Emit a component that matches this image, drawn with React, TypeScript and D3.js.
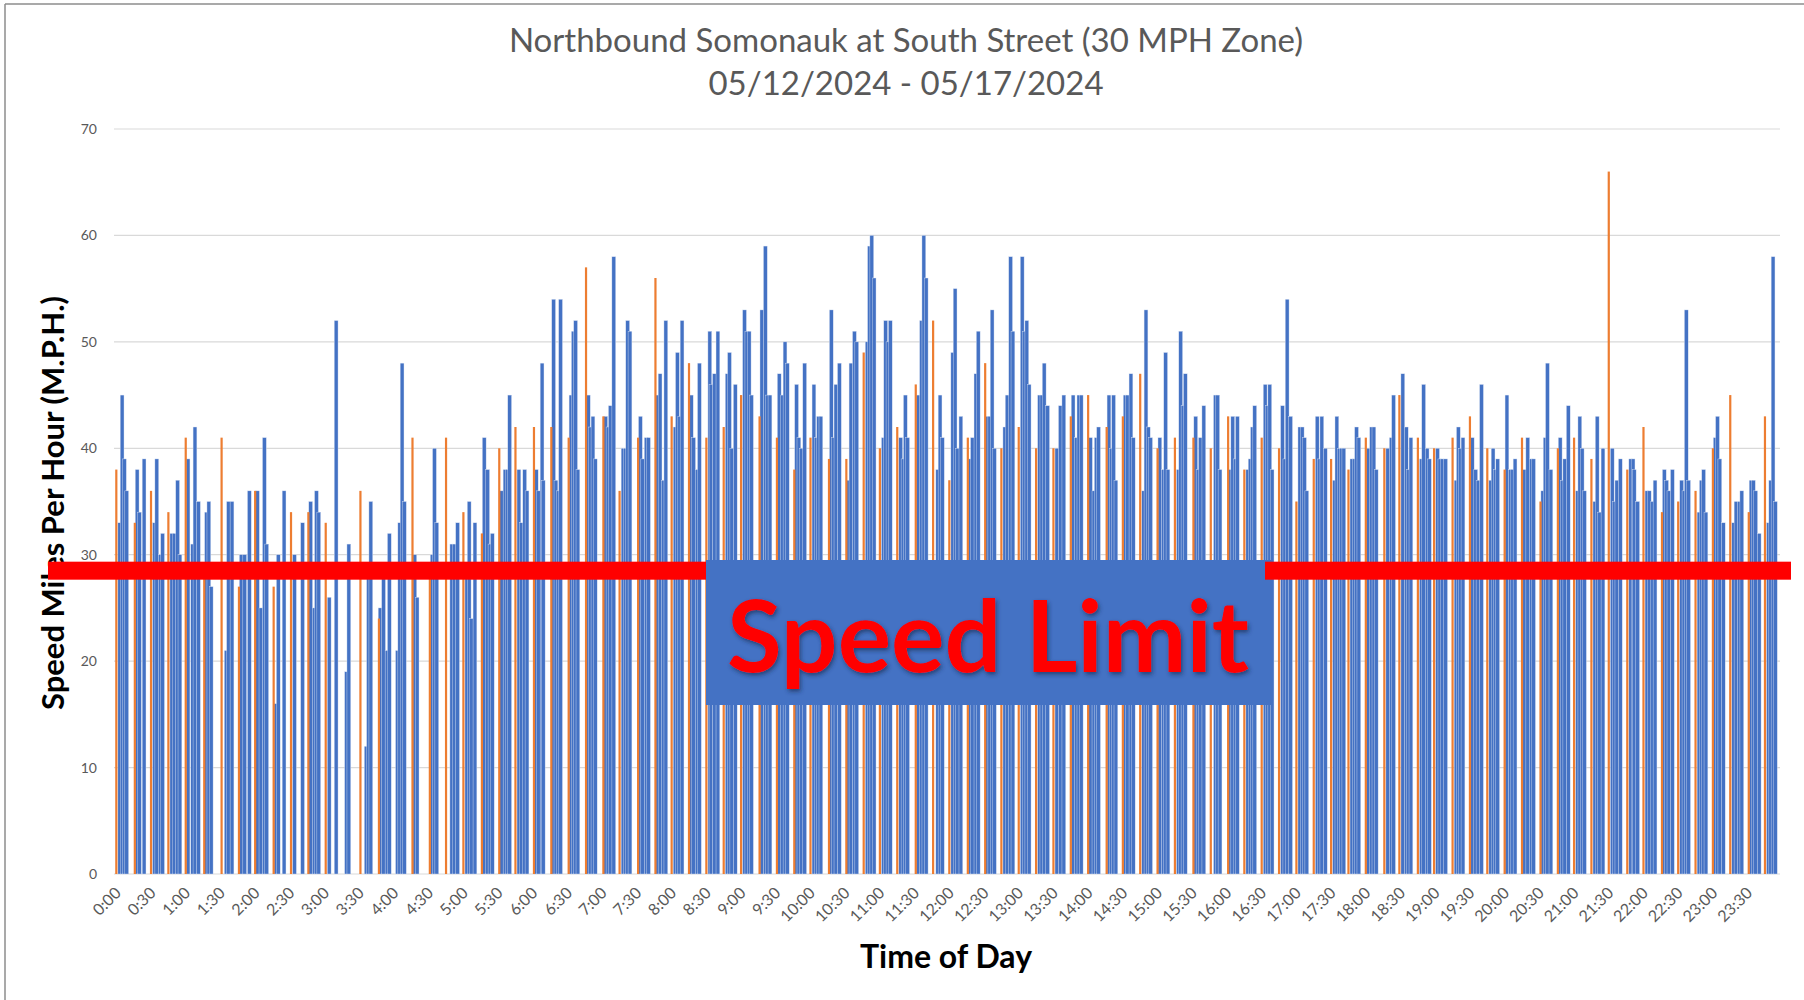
import * as d3 from 'd3';

// speed readings: [minute of day, mph]
const blueBars: [number, number][] = [
  [5, 33], [7, 45], [9, 39], [11, 36], [20, 38], [22, 34], [26, 39], [35, 33], [37, 39], [40, 30], [42, 32],
  [50, 32], [52, 32], [55, 37], [57, 30], [64, 39], [68, 31], [70, 42], [73, 35], [80, 34], [82, 35], [84, 27],
  [97, 21], [99, 35], [102, 35], [110, 30], [113, 30], [117, 36], [124, 36], [127, 25], [130, 41], [132, 31],
  [140, 16], [142, 30], [147, 36], [156, 30], [163, 33], [170, 35], [173, 25], [175, 36], [177, 34], [186, 26],
  [192, 52], [201, 19], [203, 31], [218, 12], [220, 29], [222, 35], [230, 25], [233, 29], [236, 21], [238, 32],
  [245, 21], [247, 33], [249, 48], [251, 35], [260, 30], [262, 26], [275, 30], [277, 40], [279, 33], [292, 31],
  [294, 31], [297, 33], [305, 28], [307, 35], [309, 24], [312, 33], [320, 41], [323, 38], [325, 31], [327, 32],
  [335, 36], [338, 38], [340, 38], [342, 45], [350, 38], [352, 33], [355, 38], [357, 36], [365, 38], [367, 36],
  [370, 48], [371, 37], [380, 54], [382, 37], [384, 36], [386, 54], [395, 45], [397, 51], [399, 52], [401, 38],
  [410, 45], [412, 42], [414, 43], [416, 39], [425, 43], [427, 42], [429, 44], [432, 58], [440, 40], [442, 40],
  [444, 52], [446, 51], [455, 43], [457, 39], [460, 41], [462, 41], [470, 45], [472, 47], [475, 37], [477, 52],
  [485, 42], [487, 49], [489, 43], [491, 52], [499, 45], [501, 41], [504, 38], [506, 48], [515, 51], [516, 46],
  [519, 47], [522, 51], [530, 47], [532, 49], [534, 40], [537, 46], [545, 53], [547, 51], [549, 51], [551, 45],
  [560, 53], [563, 59], [565, 45], [567, 45], [575, 47], [578, 45], [580, 50], [582, 48], [590, 46], [592, 41],
  [594, 40], [597, 48], [605, 46], [607, 41], [609, 43], [611, 43], [620, 53], [622, 41], [624, 46], [627, 48],
  [635, 37], [637, 48], [640, 51], [642, 50], [651, 50], [653, 59], [655, 60], [657, 56], [665, 41], [667, 52],
  [669, 50], [671, 52], [680, 41], [682, 39], [684, 45], [686, 41], [695, 45], [698, 52], [700, 60], [702, 56],
  [712, 38], [714, 45], [716, 41], [725, 49], [727, 55], [729, 40], [732, 43], [740, 39], [742, 41], [745, 47],
  [747, 51], [755, 43], [757, 43], [759, 53], [761, 40], [770, 42], [772, 45], [775, 58], [777, 51], [785, 58],
  [787, 51], [789, 52], [791, 46], [800, 45], [802, 45], [804, 48], [807, 44], [815, 40], [818, 44], [821, 45],
  [829, 45], [832, 41], [834, 45], [836, 45], [844, 41], [847, 36], [849, 41], [851, 42], [860, 45], [862, 40],
  [864, 45], [866, 37], [874, 45], [876, 45], [879, 47], [881, 41], [890, 36], [892, 53], [894, 42], [896, 41],
  [904, 41], [907, 38], [909, 49], [911, 38], [920, 38], [922, 51], [924, 44], [926, 47], [935, 43], [937, 38],
  [939, 41], [942, 44], [952, 45], [954, 45], [956, 38], [965, 38], [967, 43], [969, 39], [971, 43], [980, 38],
  [982, 39], [984, 42], [986, 44], [995, 46], [997, 44], [999, 46], [1001, 38], [1010, 44], [1012, 39], [1014, 54],
  [1017, 43], [1025, 42], [1027, 42], [1029, 41], [1031, 36], [1040, 43], [1042, 39], [1044, 43], [1047, 40],
  [1055, 37], [1057, 43], [1059, 40], [1061, 40], [1063, 40], [1070, 39], [1072, 39], [1074, 42], [1076, 41],
  [1084, 40], [1087, 42], [1089, 42], [1091, 38], [1101, 40], [1104, 41], [1106, 45], [1114, 47], [1117, 42],
  [1119, 38], [1121, 41], [1130, 39], [1132, 46], [1135, 40], [1137, 39], [1144, 40], [1146, 39], [1148, 39],
  [1151, 39], [1160, 37], [1162, 42], [1164, 40], [1166, 41], [1174, 41], [1177, 38], [1179, 37], [1182, 46],
  [1190, 37], [1192, 40], [1194, 38], [1196, 39], [1204, 45], [1207, 38], [1209, 38], [1211, 39], [1219, 38],
  [1222, 41], [1225, 39], [1227, 39], [1235, 36], [1237, 41], [1239, 48], [1242, 38], [1250, 41], [1252, 37],
  [1254, 39], [1257, 44], [1265, 36], [1267, 43], [1269, 40], [1271, 36], [1280, 35], [1282, 43], [1284, 34],
  [1287, 40], [1295, 40], [1297, 35], [1299, 37], [1302, 39], [1311, 39], [1313, 39], [1314, 38], [1317, 35],
  [1325, 36], [1327, 36], [1330, 35], [1332, 37], [1340, 38], [1342, 37], [1344, 36], [1347, 38], [1355, 37],
  [1357, 36], [1359, 53], [1361, 37], [1370, 34], [1372, 37], [1374, 38], [1376, 34], [1384, 41], [1386, 43],
  [1388, 39], [1391, 33], [1400, 33], [1402, 35], [1405, 35], [1407, 36], [1415, 37], [1417, 37], [1419, 36],
  [1422, 32], [1430, 33], [1432, 37], [1434, 58], [1436, 35],
];

const orangeBars: [number, number][] = [
  [2, 38], [18, 33], [32, 36], [47, 34], [62, 41], [78, 29], [93, 41], [108, 27], [122, 36], [138, 27], [153, 34],
  [168, 34], [183, 33], [213, 36], [229, 24], [258, 41], [273, 28], [287, 41], [302, 34], [318, 32], [333, 40],
  [347, 42], [363, 42], [378, 42], [393, 41], [408, 57], [423, 43], [437, 36], [453, 41], [468, 56], [482, 43],
  [497, 48], [512, 41], [527, 42], [542, 45], [558, 43], [573, 41], [588, 38], [602, 41], [618, 39], [633, 39],
  [648, 49], [662, 40], [677, 42], [693, 46], [708, 52], [722, 37], [738, 41], [753, 48], [767, 40], [782, 42],
  [797, 40], [812, 40], [827, 43], [842, 45], [858, 42], [872, 43], [887, 47], [902, 40], [917, 41], [933, 41],
  [948, 40], [963, 43], [977, 38], [992, 41], [1007, 40], [1022, 35], [1037, 39], [1052, 39], [1067, 38],
  [1082, 41], [1098, 40], [1111, 45], [1127, 41], [1141, 40], [1157, 41], [1172, 43], [1187, 40], [1202, 38],
  [1217, 41], [1233, 35], [1248, 40], [1262, 41], [1277, 39], [1292, 66], [1308, 38], [1322, 42], [1338, 34],
  [1352, 35], [1367, 36], [1382, 40], [1397, 45], [1413, 34], [1427, 43],
];

const timeLabels = [
  '0:00', '0:30', '1:00', '1:30', '2:00', '2:30', '3:00', '3:30', '4:00', '4:30', '5:00', '5:30',
  '6:00', '6:30', '7:00', '7:30', '8:00', '8:30', '9:00', '9:30', '10:00', '10:30', '11:00', '11:30',
  '12:00', '12:30', '13:00', '13:30', '14:00', '14:30', '15:00', '15:30', '16:00', '16:30', '17:00', '17:30',
  '18:00', '18:30', '19:00', '19:30', '20:00', '20:30', '21:00', '21:30', '22:00', '22:30', '23:00', '23:30',
];

const yTicks = [0, 10, 20, 30, 40, 50, 60, 70];
const speedLimit = 28.5;

const W = 1804;
const H = 1000;
const FONT = 'Lato, "Open Sans", sans-serif';

export default function App() {
  const x = d3.scaleLinear().domain([0, 1440]).range([114, 1780]);
  const y = d3.scaleLinear().domain([0, 70]).range([874, 129]);
  const blueW = x(3.3) - x(0);
  const orangeW = x(1.9) - x(0);
  const ly = y(speedLimit);

  return (
    <svg
      width={W}
      height={H}
      style={{ position: 'absolute', left: 0, top: 0, background: '#fff' }}
      fontFamily={FONT}
    >
      {/* frame */}
      <line x1={5} x2={W} y1={4} y2={4} stroke="#8c8c8c" strokeWidth={1.5} />
      <line x1={5} x2={5} y1={4} y2={H} stroke="#8c8c8c" strokeWidth={1.5} />

      {/* title */}
      <text x={906} y={52} textAnchor="middle" fontSize={33} fill="#595959">
        Northbound Somonauk at South Street (30 MPH Zone)
      </text>
      <text x={906} y={95} textAnchor="middle" fontSize={33} fill="#595959">
        05/12/2024 - 05/17/2024
      </text>

      {/* grid + y ticks */}
      {yTicks.map((t) => (
        <g key={t}>
          <line x1={114} x2={1780} y1={y(t)} y2={y(t)} stroke="#d9d9d9" strokeWidth={1.2} />
          <text x={97} y={y(t) + 5} textAnchor="end" fontSize={14} fill="#595959">
            {t}
          </text>
        </g>
      ))}

      {/* bars */}
      <g>
        {blueBars.map(([m, v], i) => (
          <rect
            key={'b' + i}
            x={x(m) - blueW / 2}
            y={y(v)}
            width={blueW}
            height={y(0) - y(v)}
            fill="#4472c4"
            stroke="#dfe7f5"
            strokeWidth={0.4}
          />
        ))}
        {orangeBars.map(([m, v], i) => (
          <rect
            key={'o' + i}
            x={x(m) - orangeW / 2}
            y={y(v)}
            width={orangeW}
            height={y(0) - y(v)}
            fill="#ed7d31"
          />
        ))}
      </g>

      {/* x labels */}
      {timeLabels.map((t, i) => {
        const tx = x(i * 30) + 8;
        const ty = y(0) + 20;
        return (
          <text
            key={t}
            transform={`translate(${tx},${ty}) rotate(-45)`}
            textAnchor="end"
            fontSize={16}
            fill="#595959"
          >
            {t}
          </text>
        );
      })}

      {/* axis titles */}
      <text
        transform={`translate(64,503) rotate(-90)`}
        textAnchor="middle"
        fontSize={31}
        fontWeight="bold"
        fill="#000"
      >
        Speed Miles Per Hour (M.P.H.)
      </text>
      <text x={946} y={968} textAnchor="middle" fontSize={32} fontWeight="bold" fill="#000">
        Time of Day
      </text>

      {/* speed limit annotation */}
      <defs>
        <filter id="txtShadow" x="-10%" y="-10%" width="120%" height="130%">
          <feDropShadow dx={1.5} dy={2.5} stdDeviation={2} floodColor="#1f2d55" floodOpacity={0.7} />
        </filter>
      </defs>
      <rect x={48} y={ly - 9} width={658} height={18} fill="#ff0000" />
      <rect x={706} y={560} width={566} height={145} fill="#4472c4" />
      <rect x={1265} y={ly - 9} width={526} height={18} fill="#ff0000" />
      <text
        x={988}
        y={672}
        textAnchor="middle"
        fontSize={100}
        fontWeight="bold"
        fill="#ff0000"
        textLength={522}
        lengthAdjust="spacingAndGlyphs"
        filter="url(#txtShadow)"
      >
        Speed Limit
      </text>
    </svg>
  );
}
